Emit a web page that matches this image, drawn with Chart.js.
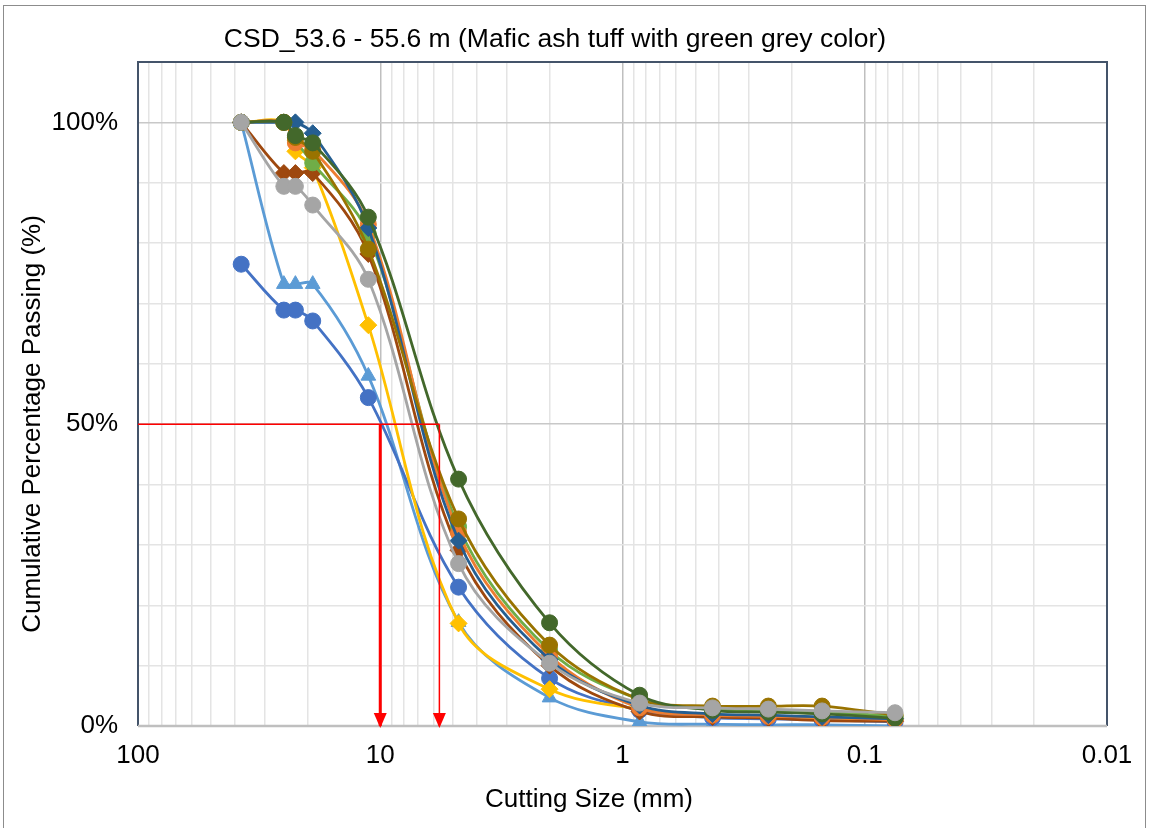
<!DOCTYPE html>
<html>
<head>
<meta charset="utf-8">
<script src="https://cdn.jsdelivr.net/npm/chart.js@4.4.1/dist/chart.umd.min.js"></script>
<style>
  html, body { margin: 0; padding: 0; background: #fff; overflow: hidden; }
  #frame { position: absolute; left: 3px; top: 5px; width: 1143px; height: 860px; border: 1px solid #8c8c8c; box-sizing: border-box; }
  #graph { position: absolute; left: 0; top: 0; }
</style>
</head>
<body>
<div id="frame"></div>
<canvas id="graph" width="1149" height="828"></canvas>
<script>
// sieve sizes (mm) and cumulative % passing per sample
const sizes = [37.5, 25, 22.4, 19, 11.2, 4.75, 2, 0.85, 0.425, 0.25, 0.15, 0.075];

const grayPass      = [100, 89.4, 89.4, 86.3, 74.0, 26.9, 10.4, 3.8, 3.0, 2.8, 2.5, 2.2];
const darkGreenPass = [100, 100, 97.8, 96.6, 84.3, 40.9, 17.1, 5.1, 2.6, 2.3, 2.0, 1.3];
const olivePass     = [100, 100, 97.5, 95.2, 79.0, 34.3, 13.4, 4.4, 3.3, 3.3, 3.3, 1.8];
const steelPass     = [100, 100, 100, 98.2, 82.5, 30.7, 11.0, 3.4, 2.0, 1.8, 1.5, 1.2];
const orangePass    = [100, 100, 96.6, 95.5, 83.1, 32.0, 11.7, 3.0, 1.8, 1.6, 1.4, 1.0];
const greenPass     = [100, 100, 97.0, 93.3, 81.5, 33.0, 12.5, 4.4, 2.8, 2.6, 2.4, 1.6];
const brownPass     = [100, 91.6, 91.6, 91.6, 78.2, 29.1, 10.0, 2.4, 1.5, 1.3, 0.9, 0.8];
const yellowPass    = [100, 100, 95.2, 92.5, 66.4, 17.0, 6.1, 2.8, 1.8, 1.6, 1.4, 1.0];
const bluePass      = [76.5, 68.9, 68.9, 67.1, 54.4, 23.0, 7.9, 2.6, 1.4, 1.2, 1.0, 0.7];
const lightBluePass = [100, 73.2, 73.2, 73.2, 58.0, 17.2, 4.7, 0.7, 0.3, 0.2, 0.2, 0.0];

// D50 read-off: sizes where the 50% line meets the envelope
const d50Sizes = [10, 5.7];
const d50Level = 50;

const xDecades = [0.01, 0.1, 1, 10, 100];
const yTickLabels = [0, 50, 100];

const chartTitle = "CSD_53.6 - 55.6 m (Mafic ash tuff with green grey color)";
const xTitle = "Cutting Size (mm)";
const yTitle = "Cumulative Percentage Passing (%)";

const FONT = "'Liberation Sans', Arial, sans-serif";

const toPoints = (vals) => sizes.map((s, i) => ({ x: s, y: vals[i] }));

const series = [
  { label: "S3", data: grayPass, color: "#A5A5A5", style: "circle" },
  { label: "S12", data: darkGreenPass, color: "#43682B", style: "circle" },
  { label: "S10", data: olivePass, color: "#997300", style: "circle" },
  { label: "S11", data: steelPass, color: "#255E91", style: "rectRot" },
  { label: "S2", data: orangePass, color: "#ED7D31", style: "circle" },
  { label: "S6", data: greenPass, color: "#70AD47", style: "circle" },
  { label: "S8", data: brownPass, color: "#9E480E", style: "rectRot" },
  { label: "S4", data: yellowPass, color: "#FFC000", style: "rectRot" },
  { label: "S1", data: bluePass, color: "#4472C4", style: "circle" },
  { label: "S5", data: lightBluePass, color: "#5B9BD5", style: "triangle" },
];

const datasets = series.map((s) => ({
  label: s.label,
  data: toPoints(s.data),
  borderColor: s.color,
  backgroundColor: s.color,
  borderWidth: 2.8,
  pointStyle: s.style,
  pointRadius: s.style === "circle" ? 8 : 8.5,
  pointBorderWidth: 1,
  tension: 0.35,
  order: 1,
}));

// red guide lines
datasets.unshift(
  { label: "h50", data: [{ x: 100, y: d50Level }, { x: d50Sizes[1], y: d50Level }], borderColor: "#FF0000", borderWidth: 1.5, pointRadius: 0, order: 0 },
  { label: "v1", data: [{ x: d50Sizes[0], y: d50Level }, { x: d50Sizes[0], y: 0 }], borderColor: "#FF0000", borderWidth: 3, pointRadius: 0, order: 0 },
  { label: "v2", data: [{ x: d50Sizes[1], y: d50Level }, { x: d50Sizes[1], y: 0 }], borderColor: "#FF0000", borderWidth: 1.5, pointRadius: 0, order: 0 }
);

const isPow10 = (v) => Math.abs(Math.log10(v) - Math.round(Math.log10(v))) < 1e-9;

const plotFrame = {
  id: "plotFrame",
  beforeDatasetsDraw(chart) {
    const { ctx, chartArea: a } = chart;
    ctx.save();
    ctx.strokeStyle = "#44546A";
    ctx.lineWidth = 2;
    ctx.beginPath();
    ctx.moveTo(a.left, a.bottom);
    ctx.lineTo(a.left, a.top);
    ctx.lineTo(a.right, a.top);
    ctx.lineTo(a.right, a.bottom);
    ctx.stroke();
    ctx.strokeStyle = "#BFBFBF";
    ctx.lineWidth = 2.5;
    ctx.beginPath();
    ctx.moveTo(a.left, a.bottom);
    ctx.lineTo(a.right, a.bottom);
    ctx.stroke();
    ctx.restore();
  },
  afterDatasetsDraw(chart) {
    const { ctx } = chart;
    const xs = chart.scales.x, ys = chart.scales.y;
    const tip = ys.getPixelForValue(0);
    ctx.save();
    ctx.fillStyle = "#FF0000";
    d50Sizes.forEach((d) => {
      const px = xs.getPixelForValue(d);
      ctx.beginPath();
      ctx.moveTo(px, tip + 2);
      ctx.lineTo(px - 6.5, tip - 13);
      ctx.lineTo(px + 6.5, tip - 13);
      ctx.closePath();
      ctx.fill();
    });
    ctx.restore();
  },
  afterDraw(chart) {
    const { ctx } = chart;
    ctx.save();
    ctx.fillStyle = "#000";
    ctx.font = "26.5px " + FONT;
    ctx.textAlign = "center";
    ctx.textBaseline = "middle";
    ctx.fillText(chartTitle, 555, 40);
    ctx.font = "26px " + FONT;
    ctx.fillText(xTitle, 589, 800);
    ctx.translate(33, 424);
    ctx.rotate(-Math.PI / 2);
    ctx.fillText(yTitle, 0, 0);
    ctx.restore();
  },
};

new Chart(document.getElementById("graph"), {
  type: "line",
  data: { datasets },
  plugins: [plotFrame],
  options: {
    responsive: false,
    animation: false,
    layout: { padding: { left: 0, right: 42, top: 62, bottom: 0 } },
    plugins: { legend: { display: false }, tooltip: { enabled: false }, title: { display: false } },
    scales: {
      x: {
        type: "logarithmic",
        reverse: true,
        min: 0.01,
        max: 100,
        afterFit: (scale) => { scale.height = 102; },
        afterBuildTicks: (scale) => {
          const ticks = [];
          xDecades.slice(0, -1).forEach((d) => {
            for (let m = 1; m <= 9; m++) ticks.push({ value: parseFloat((m * d).toPrecision(3)) });
          });
          ticks.push({ value: xDecades[xDecades.length - 1] });
          scale.ticks = ticks;
        },
        ticks: {
          autoSkip: false,
          maxRotation: 0,
          padding: 14,
          color: "#000",
          font: { family: FONT, size: 26 },
          callback: (v) => (isPow10(v) ? String(v) : ""),
        },
        grid: {
          drawTicks: false,
          lineWidth: 1.5,
          color: (c) => (c.tick && isPow10(c.tick.value) ? "#BFBFBF" : "#E4E4E4"),
        },
        border: { display: false },
      },
      y: {
        min: 0,
        max: 110,
        afterFit: (scale) => { scale.width = 138; },
        ticks: {
          stepSize: 10,
          padding: 20,
          color: "#000",
          font: { family: FONT, size: 26 },
          callback: (v) => (yTickLabels.includes(v) ? v + "%" : ""),
        },
        grid: {
          drawTicks: false,
          lineWidth: 1.5,
          color: (c) => (c.tick && c.tick.value % 50 === 0 ? "#C8C8C8" : "#E4E4E4"),
        },
        border: { display: false },
      },
    },
  },
});
</script>
</body>
</html>
